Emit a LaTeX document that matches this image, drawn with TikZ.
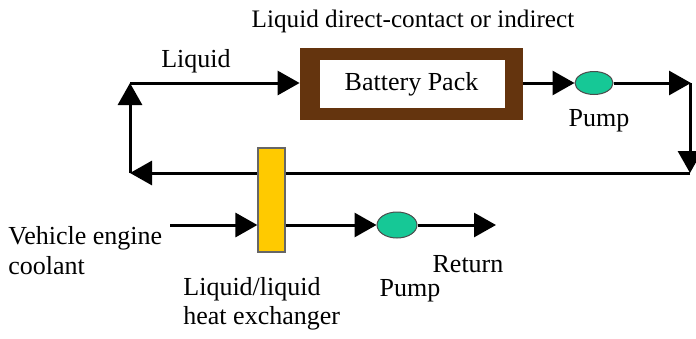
\documentclass[tikz,border=0pt]{standalone}
\usepackage{fontspec}
\setmainfont{Liberation Serif}
\usepackage{tikz}
\usetikzlibrary{arrows.meta, positioning, shapes.geometric, calc}

\definecolor{packbrown}{RGB}{100,52,14}
\definecolor{hxyellow}{RGB}{255,202,0}
\definecolor{pumpteal}{RGB}{22,200,150}

\tikzset{
	flow/.style={line width=1.5pt, -{Triangle[length=11pt, width=12pt]}},
	pumpnode/.style={ellipse, draw=black!70, fill=pumpteal, line width=0.5pt, inner sep=0pt},
	lbl/.style={font=\fontsize{13}{14.5}\selectfont, inner sep=0pt},
	packbox/.style={fill=packbrown, minimum width=111.5pt, minimum height=36pt,
		path picture={\fill[white] ($(path picture bounding box.north west)+(20,12)$) rectangle ($(path picture bounding box.south east)+(-18,-12)$);}}
}

\begin{document}
\begin{tikzpicture}[x=0.5pt, y=-0.5pt]
			% frame of the reference
			\useasboundingbox (0, 0) rectangle (696, 338);
			% Loop corners:
			\coordinate (TL) at (130, 83);
			\coordinate (TR) at (691, 83);
			\coordinate (BR) at (690, 173);
			\coordinate (BL) at (130, 173);
			% Battery and pump:
			\node[packbox, lbl](Pack) at (411.5, 84){Battery Pack};
			\node[pumpnode, minimum width=19pt, minimum height=11.5pt](PumpA) at (594, 83){};
			\node[lbl, anchor=base](PumpAL) at (599, 126){Pump};
			\node[lbl, anchor=base, font=\fontsize{12.6}{14.5}\selectfont](Title) at (413, 27){Liquid direct-contact or indirect};
			\node[lbl, anchor=base](LiqL) at (196, 67){Liquid};
			% Loop lines:
			\draw[flow] (BR) -- (BL);
			\draw[flow] (BL) -- (TL);
			\draw[flow] (TL) -- (TL -| Pack.west);
			\draw[flow] (Pack.east |- PumpA) -- (PumpA.west);
			\draw[flow] (PumpA.east) -- (TR);
			\draw[flow] (TR -| BR) -- (BR);
			% Heat exchanger and coolant side:
			\node[draw=black!60, fill=hxyellow, line width=0.6pt, minimum width=13.5pt, minimum height=52pt, inner sep=0pt](HX) at (271.5, 200){};
			\coordinate (CoolIn) at (170, 225);
			\node[pumpnode, minimum width=20pt, minimum height=13pt](PumpB) at (397, 225){};
			\coordinate (RetOut) at (496, 225);
			\draw[flow] (CoolIn) -- (CoolIn -| HX.west);
			\draw[flow] (CoolIn -| HX.east) -- (PumpB.west);
			\draw[flow] (PumpB.east) -- (RetOut);
			\node[lbl, align=left, anchor=north west, font=\fontsize{13}{15}\selectfont](CoolL) at (8, 226){Vehicle engine\\coolant};
			\node[lbl, anchor=base](RetL) at (468, 272){Return};
			\node[lbl, anchor=base](PumpBL) at (410, 296){Pump};
			\node[lbl, align=left, anchor=north west](HXL) at (183, 277){Liquid/liquid\\heat exchanger};
		\end{tikzpicture}
\end{document}
